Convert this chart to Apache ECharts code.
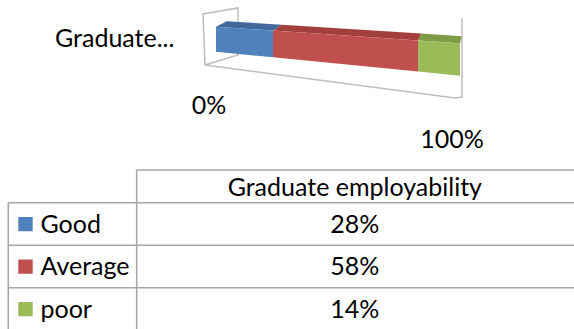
<!DOCTYPE html>
<html><head><meta charset="utf-8">
<script src="https://cdn.jsdelivr.net/npm/echarts@6/dist/echarts.min.js"></script>
<style>html,body{margin:0;padding:0;background:#fff}#c{width:574px;height:329px}</style>
</head><body><div id="c"></div>
<script>
// ---- data ----
const categories = ['Graduate employability'];
const categoryLabels = ['Graduate...'];
const seriesNames = ['Good', 'Average', 'poor'];
const good = [28];
const average = [58];
const poor = [14];
const tickLabels = ['0%', '100%'];

// ---- styles ----
const colors = ['#4f81bd', '#c0504d', '#9bbb59'];
const topColors = ['#41699c', '#a3403d', '#7e9b46'];
const FONT = 'Lato, "Open Sans", sans-serif';
const FS = 25;
const GRID_COLOR = '#a8a8a8';

const values = [good, average, poor];

// stacked ranges
const ranges = values.map(() => []);
categories.forEach((c, ci) => {
  let acc = 0;
  values.forEach((arr, si) => {
    ranges[si].push([acc, acc + arr[ci], ci]);
    acc += arr[ci];
  });
});

function renderItem(params, api) {
  const s = api.value(0), e = api.value(1), ci = api.value(2);
  const p0 = api.coord([0, ci]), p100 = api.coord([100, ci]);
  const L = p0[0], R = p100[0], cy = p0[1];
  const B = -0.216; // perspective foreshortening
  const warp = v => {
    const px = api.coord([v, ci])[0];
    const t = (px - L) / (R - L);
    return (1 + B) * t / (1 + B * t);
  };
  const t0 = warp(s), t1 = warp(e);
  const X = t => L + t * (R - L);
  const fT = t => cy - 12.3 + t * 16.6;
  const fB = t => cy + 12.7 + t * 24;
  const bX = t => X(t) + 10.7 - 9 * t;
  const bY = t => fT(t) - 5.5 - 1.6 * t;
  const si = params.seriesIndex;
  return {
    type: 'group',
    children: [
      { type: 'polygon', shape: { points: [[X(t0), fT(t0)], [bX(t0), bY(t0)], [bX(t1), bY(t1)], [X(t1), fT(t1)]] },
        style: { fill: topColors[si] } },
      { type: 'polygon', shape: { points: [[X(t0), fT(t0)], [X(t1), fT(t1)], [X(t1), fB(t1)], [X(t0), fB(t0)]] },
        style: { fill: colors[si] } }
    ]
  };
}

// ---- graphic: frame, labels, data table ----
const g = [];
const line = (x1, y1, x2, y2, w) => g.push({ type: 'line', silent: true,
  shape: { x1, y1, x2, y2 }, style: { stroke: GRID_COLOR, lineWidth: w || 1.6 } });
const text = (t, x, y, align) => g.push({ type: 'text', silent: true,
  style: { text: t, x, y, fill: '#000', font: FS + 'px ' + FONT, align: align || 'left', verticalAlign: 'middle' } });

// 3D frame (side wall, floor edge, right edge)
g.push({ type: 'polyline', silent: true, shape: { points: [[205, 65], [203, 14], [238, 8], [238, 55], [205, 65], [455, 98], [462, 97], [462, 18]] },
  style: { stroke: '#bdbdbd', lineWidth: 1.5, fill: null } });

// category + tick labels
text(categoryLabels[0], 55, 37);
text(tickLabels[0], 209, 104, 'center');
text(tickLabels[1], 452, 138, 'center');

// table
const colX = 136.7, leftX = 8.3, rightX = 574;
const headTop = 170, headBot = 202.7, rowH = 42.5;
line(colX, headTop, rightX, headTop);
line(colX, headTop, colX, 329);
line(leftX, headBot, leftX, 329);
for (let r = 0; r <= seriesNames.length; r++) {
  const y = headBot + r * rowH;
  if (y < 329) line(leftX, y, rightX, y);
}
const valX = (colX + rightX) / 2 - 0.5;
text(categories[0], valX, (headTop + headBot) / 2 - 0.5, 'center');
seriesNames.forEach((n, i) => {
  const cy = headBot + rowH * (i + 0.5);
  g.push({ type: 'rect', silent: true, shape: { x: 18.3, y: cy - 7, width: 14.4, height: 14.4 }, style: { fill: colors[i] } });
  text(n, 40.5, cy - 1);
  text(values[i][0] + '%', valX, cy - 1, 'center');
});

const chart = echarts.init(document.getElementById('c'), null, { renderer: 'svg' });
chart.setOption({
  animation: false,
  grid: { left: 216, right: 114, top: 14, height: 50 },
  xAxis: { type: 'value', min: 0, max: 100, show: false },
  yAxis: { type: 'category', data: categories, show: false },
  series: seriesNames.map((n, i) => ({
    type: 'custom', name: n, renderItem, data: ranges[i],
    encode: { x: [0, 1], y: 2 }, z: 2
  })),
  graphic: g
});
</script></body></html>
